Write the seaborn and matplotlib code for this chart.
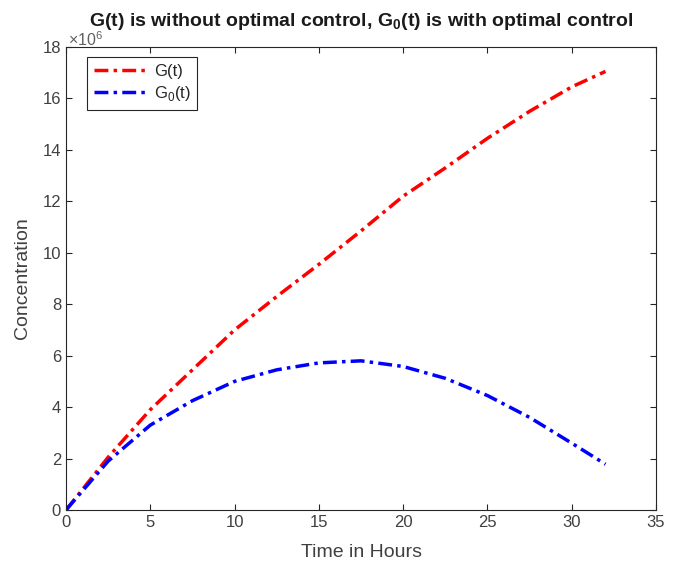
import matplotlib
matplotlib.use("Agg")
import matplotlib.pyplot as plt
import seaborn as sns
import pandas as pd
from matplotlib.lines import Line2D

# values (y in units of the axis offset)
hours = [0, 2.5, 5, 7.5, 10, 12.5, 15, 17.5, 20, 22.5, 25, 27.5, 30, 32]
g_no_control = [0, 2.05, 3.9, 5.45, 7.0, 8.3, 9.55, 10.85, 12.2, 13.3, 14.45, 15.5, 16.45, 17.05]
g_optimal = [0, 1.9, 3.3, 4.25, 5.0, 5.45, 5.72, 5.8, 5.58, 5.12, 4.45, 3.6, 2.6, 1.78]
series_labels = ["G(t)", "G$_0$(t)"]
colors = ["#ff0000", "#0000ff"]

df = pd.DataFrame({
    "t": hours * 2,
    "conc": g_no_control + g_optimal,
    "series": [series_labels[0]] * len(hours) + [series_labels[1]] * len(hours),
})

sns.set_style("ticks")
plt.rcParams["font.family"] = ["Liberation Sans", "DejaVu Sans"]
plt.rcParams["mathtext.fontset"] = "custom"
plt.rcParams["mathtext.rm"] = "Liberation Sans"
plt.rcParams["mathtext.bf"] = "Liberation Sans:bold"

dash = (0, (4, 1.5, 1, 1.5))
txt_col = "#404040"

fig = plt.figure(figsize=(6.78, 5.63), dpi=100)
ax = fig.add_axes([0.0973, 0.0941, 0.8703, 0.8224])

sns.lineplot(
    data=df, x="t", y="conc", hue="series", ax=ax,
    palette=dict(zip(series_labels, colors)),
    linewidth=2.5, legend=False,
)
for line in ax.get_lines():
    line.set_linestyle(dash)

ax.set_xlim(0, 35)
ax.set_ylim(0, 18)
ax.set_xticks(range(0, 36, 5))
ax.set_yticks(range(0, 19, 2))
ax.tick_params(direction="in", top=True, right=True, labelsize=12,
               colors="#262626", labelcolor=txt_col, length=4, width=0.8)
for sp in ax.spines.values():
    sp.set_visible(True)
    sp.set_color("#262626")
    sp.set_linewidth(0.8)

ax.set_xlabel("Time in Hours", fontsize=14, color=txt_col, labelpad=10)
ax.set_ylabel("Concentration", fontsize=14, color=txt_col, labelpad=8)

fig.text(0.1, 0.93, r"$\times$10$^{6}$", fontsize=11.5, color="#606060",
         ha="left", va="center")
ax.set_title(r"G(t) is without optimal control, G$_\mathbf{0}$(t) is with optimal control",
             fontsize=14, fontweight="bold", pad=15, color="#1a1a1a")

handles = [Line2D([0], [0], color=c, lw=2.5, linestyle=dash) for c in colors]
leg = ax.legend(handles, series_labels, loc="upper left", fontsize=12,
                bbox_to_anchor=(0.036, 0.978), borderaxespad=0,
                fancybox=False, framealpha=1, edgecolor="#262626",
                handlelength=3.2, handletextpad=0.4, borderpad=0.4,
                labelspacing=0.3)
leg.get_frame().set_linewidth(0.8)
for t in leg.get_texts():
    t.set_color("#262626")

fig.savefig("out.png", dpi=100, facecolor="white")
